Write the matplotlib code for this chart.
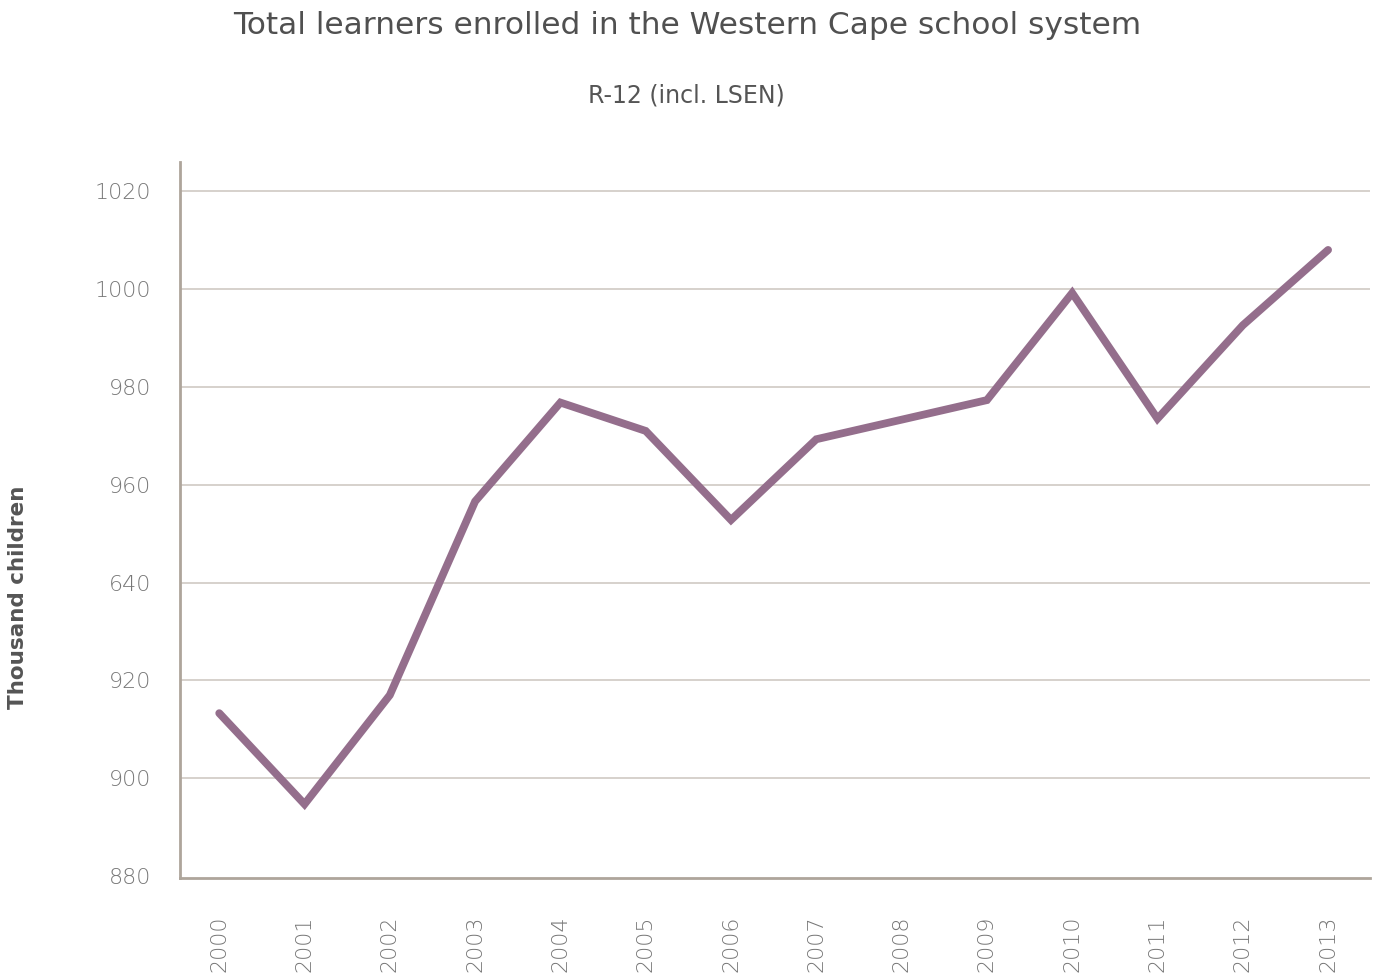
import matplotlib
matplotlib.use("Agg")
import matplotlib.pyplot as plt

years = [2000, 2001, 2002, 2003, 2004, 2005, 2006, 2007, 2008, 2009, 2010, 2011, 2012, 2013]
learners = [913.3, 894.7, 917.0, 956.6, 976.8, 971.0, 952.8, 969.3, 973.3, 977.3, 999.2, 973.5, 992.6, 1008.0]
ytick_vals = [880, 900, 920, 940, 960, 980, 1000, 1020]
ytick_labels = ["880", "900", "920", "640", "960", "980", "1000", "1020"]

fig = plt.figure(figsize=(13.74, 9.77), dpi=100)
ax = fig.add_axes([0.131, 0.1013, 0.866, 0.733])

ax.plot(years, learners, color="#946E8C", lw=5.6, solid_capstyle="round", solid_joinstyle="miter", zorder=3)

ax.set_xlim(1999.54, 2013.49)
ax.set_ylim(879.6, 1026)
ax.set_yticks(ytick_vals)
ax.set_yticklabels(ytick_labels)
ax.set_xticks(years)
ax.set_xticklabels([str(y) for y in years], rotation=90, va="top")

for v in ytick_vals[1:]:
    ax.axhline(v, color="#cfc9c3", lw=1.2, zorder=1)

for s in ["top", "right"]:
    ax.spines[s].set_visible(False)
for s in ["left", "bottom"]:
    ax.spines[s].set_color("#aea59b")
    ax.spines[s].set_linewidth(2)

ax.tick_params(axis="both", length=0, colors="#666666", labelsize=16)
ax.tick_params(axis="y", pad=21)
ax.tick_params(axis="x", pad=27)
for lab in ax.get_yticklabels() + ax.get_xticklabels():
    lab.set_family("DejaVu Sans")
    lab.set_fontweight("light")
    lab.set_color("#777777")

fig.text(18 / 1374, 1 - 597 / 977, "Thousand children", rotation=90, ha="center", va="center",
         family="DejaVu Sans", fontweight="bold", fontsize=15.5, color="#555555")

fig.text(0.5, 0.974, "Total learners enrolled in the Western Cape school system", ha="center", va="center",
         family="DejaVu Sans", fontsize=22.5, color="#505050")
fig.text(0.4995, 0.902, "R-12 (incl. LSEN)", ha="center", va="center",
         family="DejaVu Sans", fontsize=17, color="#555555")

fig.savefig("out.png", dpi=100, facecolor="white")
